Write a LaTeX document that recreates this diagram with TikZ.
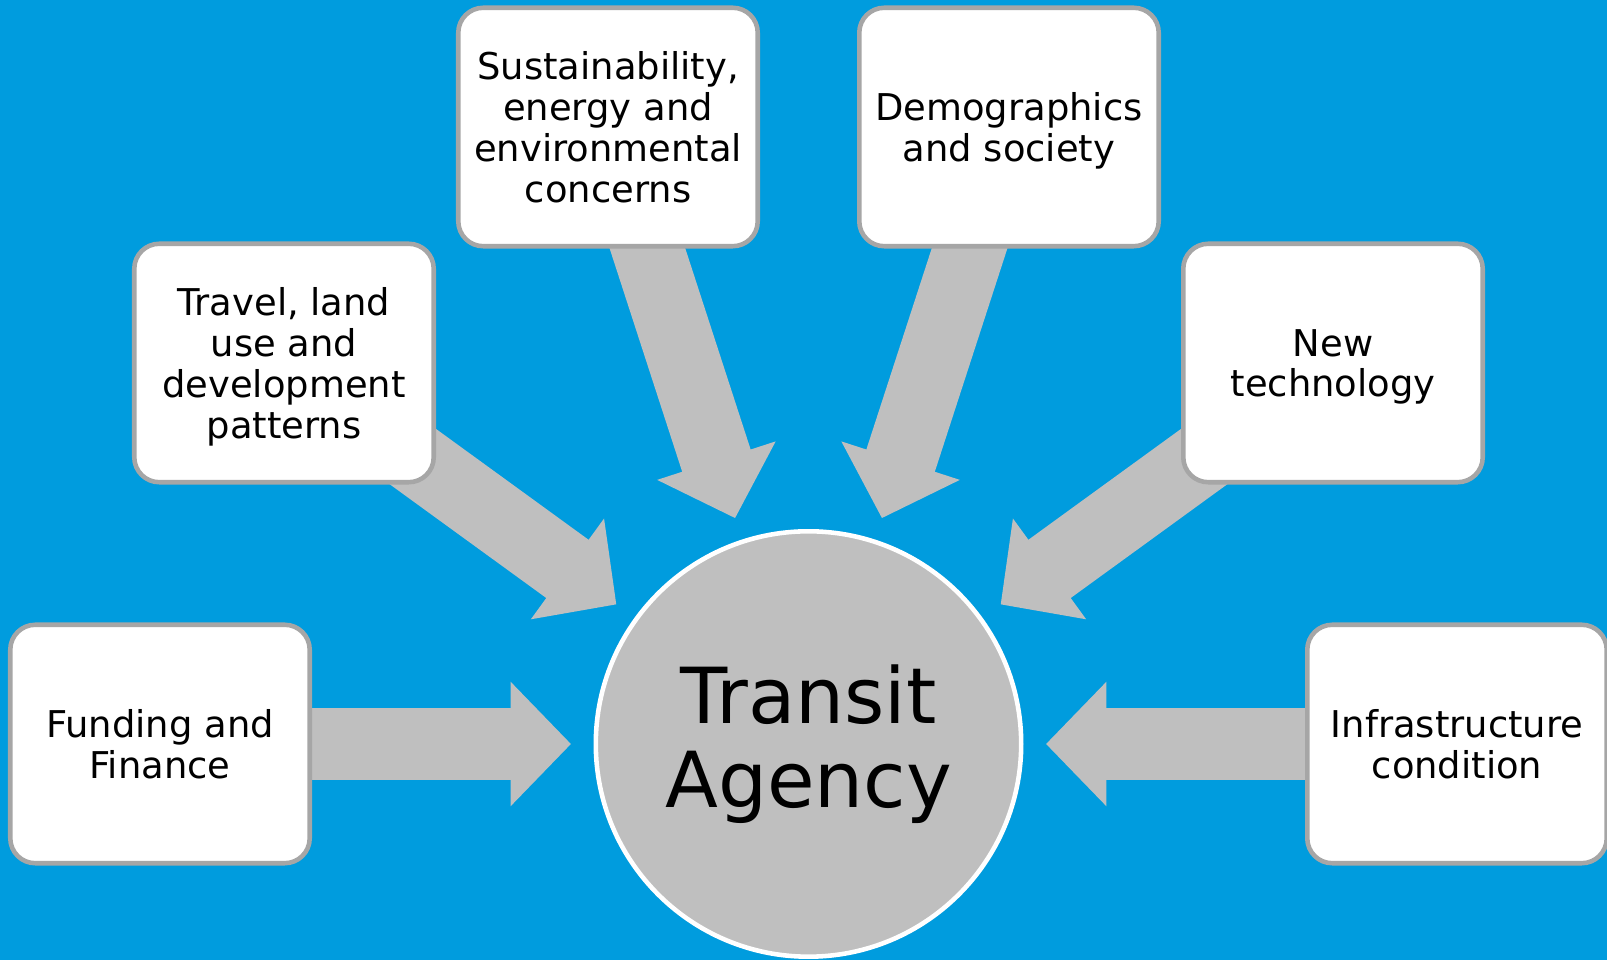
\documentclass[tikz,border=0pt]{standalone}
\usepackage{fontspec}
\setmainfont{DejaVu Sans}
\usetikzlibrary{calc,arrows.meta}

\definecolor{skyblue}{RGB}{0,156,222}
\definecolor{arrowgray}{RGB}{191,191,191}
\definecolor{framegray}{RGB}{166,166,166}

\pgfdeclarelayer{bg}
\pgfdeclarelayer{flow}
\pgfsetlayers{bg,flow,main}

\begin{document}
\begin{tikzpicture}[x=0.02cm, y=0.02cm,
    factor/.style={rectangle, rounded corners=0.5cm, draw=framegray, line width=2.6pt,
        fill=white, minimum width=5.99cm, minimum height=4.77cm, inner sep=0pt,
        text depth=0pt, align=center, font=\fontsize{21}{23.2}\selectfont},
    hub/.style={circle, draw=white, line width=2.6pt, fill=arrowgray,
        minimum size=8.51cm, align=center, font=\fontsize{44}{47.5}\selectfont},
    push/.style={arrowgray, line width=1.44cm, -{Triangle[length=1.21cm, width=2.42cm]}},
]

\begin{pgfonlayer}{bg}
\fill[skyblue] (0,0) rectangle (1607,960);
\end{pgfonlayer}
\useasboundingbox (0,0) rectangle (1607,960);

\node[hub] (agency) at (808.5,216) {Transit\\Agency};

\node[factor] (funding) at (160,216) {Funding and\\Finance};
\node[factor] (travel) at (284,597) {Travel, land\\use and\\development\\patterns};
\node[factor] (sustain) at (608,833) {Sustainability,\\energy and\\environmental\\concerns};
\node[factor] (demog) at (1009,833) {Demographics\\and society};
\node[factor] (tech) at (1333,597) {New\\technology};
\node[factor] (infra) at (1457,216) {Infrastructure\\condition};

% block arrows, kept under the boxes
\begin{pgfonlayer}{flow}
\foreach \f in {funding,travel,sustain,demog,tech,infra}
  \draw[push] (\f.center) -- ($(agency.center)!4.75cm!(\f.center)$);
\end{pgfonlayer}

\end{tikzpicture}
\end{document}
